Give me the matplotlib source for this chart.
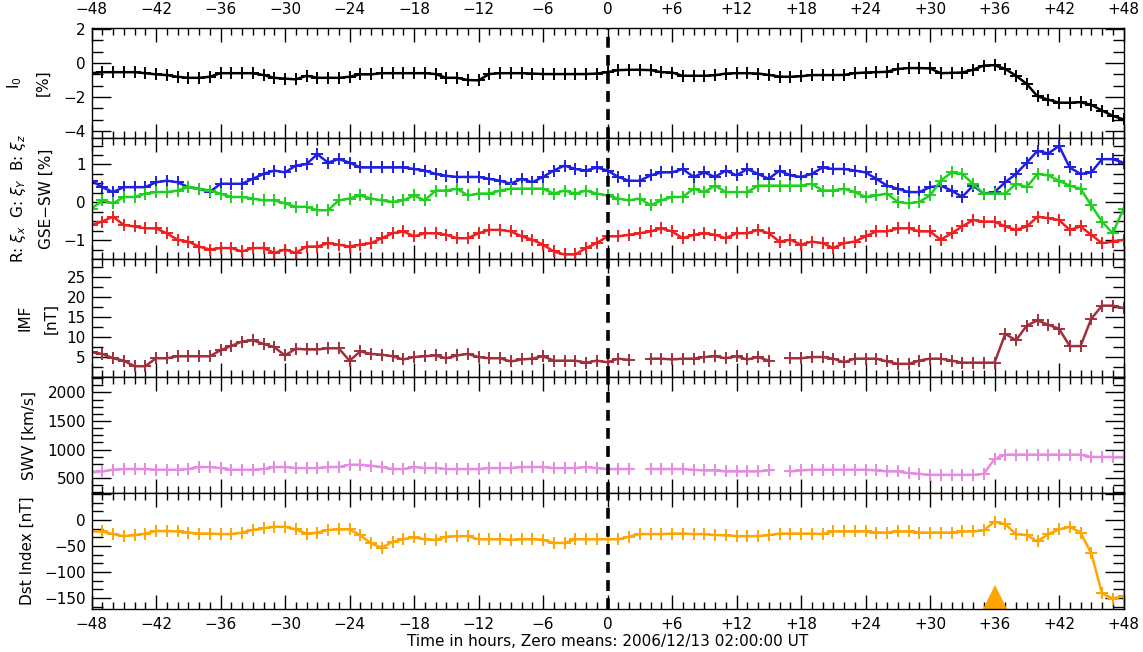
import numpy as np
import matplotlib
matplotlib.use("Agg")
import matplotlib.pyplot as plt
from matplotlib.ticker import MultipleLocator, AutoMinorLocator, FuncFormatter

nan = np.nan
hours = np.arange(-48, 49)

# cosmic ray intensity I0 [%]
i0 = [-0.60, -0.54, -0.54, -0.54, -0.54, -0.60, -0.67, -0.71, -0.81, -0.87,
      -0.87, -0.81, -0.60, -0.60, -0.60, -0.60, -0.71, -0.87, -0.92, -0.96,
      -0.75, -0.87, -0.87, -0.87, -0.81, -0.67, -0.67, -0.60, -0.60,
      -0.60, -0.60, -0.60, -0.65, -0.87, -0.87, -1.00, -1.02, -0.65, -0.60,
      -0.60, -0.60, -0.62, -0.65, -0.65, -0.65, -0.65, -0.65, -0.62,
      -0.54, -0.42, -0.40, -0.40, -0.42, -0.54, -0.56, -0.75, -0.75, -0.75,
      -0.72, -0.62, -0.60, -0.60, -0.62,
      -0.70, -0.80, -0.81, -0.78, -0.71, -0.71, -0.71, -0.70, -0.60, -0.56,
      -0.54, -0.52, -0.35, -0.30, -0.30, -0.32, -0.60, -0.58, -0.56, -0.40,
      -0.15, -0.13, -0.35, -0.75, -1.23, -1.96, -2.15, -2.33, -2.33, -2.30,
      -2.45, -2.79, -3.10, -3.31]

# anisotropy components GSE-SW [%]
xi_x = [-0.60, -0.51, -0.38, -0.60, -0.64, -0.69, -0.69, -0.82, -0.99, -1.04,
        -1.17, -1.25, -1.21, -1.21, -1.30, -1.21, -1.21, -1.34, -1.25, -1.34,
        -1.17, -1.17, -1.08, -1.12, -1.17, -1.12, -1.08,
        -0.95, -0.82, -0.77, -0.90, -0.82, -0.82, -0.86, -0.95, -0.95, -0.82,
        -0.73, -0.73, -0.77, -0.90, -0.99, -1.12, -1.30, -1.38, -1.38, -1.21,
        -1.08, -0.90, -0.90, -0.86, -0.82, -0.77, -0.69, -0.77, -0.95, -0.86,
        -0.82, -0.86, -0.95, -0.82, -0.82, -0.73,
        -0.82, -1.04, -0.99, -1.12, -1.04, -1.08, -1.21, -1.08, -1.04, -0.90,
        -0.77, -0.77, -0.69, -0.69, -0.77, -0.77, -0.99, -0.82, -0.64, -0.47,
        -0.51, -0.51, -0.64, -0.73, -0.64, -0.38, -0.42, -0.47, -0.73, -0.64,
        -0.86, -1.08, -1.04, -0.99]
xi_y = [-0.17, 0.05, -0.03, 0.14, 0.14, 0.23, 0.27, 0.27, 0.31, 0.40,
        0.36, 0.31, 0.23, 0.14, 0.14, 0.10, 0.05, 0.05, -0.03, -0.12,
        -0.12, -0.21, -0.21, 0.05, 0.10, 0.18, 0.10,
        0.05, 0.01, 0.05, 0.18, 0.05, 0.31, 0.31, 0.36, 0.18, 0.23,
        0.23, 0.31, 0.36, 0.36, 0.36, 0.36, 0.23, 0.31, 0.23, 0.31,
        0.23, 0.18, 0.10, 0.05, 0.10, -0.08, 0.05, 0.14, 0.14, 0.36,
        0.27, 0.44, 0.27, 0.27, 0.27, 0.44,
        0.44, 0.44, 0.44, 0.44, 0.49, 0.31, 0.31, 0.36, 0.27, 0.14,
        0.18, 0.23, 0.01, -0.03, 0.01, 0.18, 0.57, 0.79, 0.75, 0.49,
        0.23, 0.23, 0.23, 0.49, 0.40, 0.75, 0.71, 0.57, 0.44, 0.36,
        -0.08, -0.51, -0.82, -0.17]
xi_z = [0.57, 0.40, 0.27, 0.40, 0.40, 0.40, 0.53, 0.57, 0.53, 0.40,
        0.36, 0.27, 0.49, 0.49, 0.49, 0.62, 0.75, 0.84, 0.79, 0.97,
        1.01, 1.27, 1.05, 1.14, 1.05, 0.92, 0.92,
        0.92, 0.92, 0.92, 0.88, 0.84, 0.75, 0.70, 0.67, 0.67, 0.67,
        0.62, 0.57, 0.49, 0.62, 0.53, 0.67, 0.84, 0.97, 0.88, 0.84,
        0.92, 0.84, 0.67, 0.57, 0.57, 0.71, 0.79, 0.79, 0.88, 0.67,
        0.79, 0.67, 0.84, 0.71, 0.88, 0.75,
        0.62, 0.84, 0.71, 0.67, 0.75, 0.92, 0.88, 0.88, 0.84, 0.79,
        0.62, 0.44, 0.36, 0.27, 0.27, 0.40, 0.44, 0.31, 0.14, 0.44,
        0.23, 0.27, 0.53, 0.75, 1.05, 1.36, 1.29, 1.49, 0.92, 0.75,
        0.79, 1.14, 1.14, 1.05]

# interplanetary magnetic field [nT]
imf = [6.2, 5.8, 4.7, 4.1, 2.7, 2.7, 4.7, 4.7, 5.2, 5.2,
       5.2, 5.2, 6.7, 7.8, 8.9, 9.2, 8.3, 7.5, 5.4, 7.1,
       6.9, 6.9, 7.2, 7.2, 4.1, 6.4, 5.8, 5.6, 5.2,
       4.4, 5.0, 5.2, 5.4, 4.7, 5.4, 5.8, 5.0, 4.7, 4.7,
       3.9, 4.4, 4.6, 5.2, 4.1, 4.1, 4.1, 3.6, 4.1, 3.7,
       4.6, 4.3, nan, 4.6, 4.6, 4.4, 4.6, 4.6, 5.0, 5.2,
       4.7, 5.2, 4.4, 5.0,
       4.1, nan, 4.7, 4.7, 5.0, 5.0, 4.6, 3.7, 4.6, 4.6,
       4.6, 3.9, 3.3, 3.3, 4.1, 4.6, 4.6, 4.1, 3.6, 3.6,
       3.6, 3.6, 10.8, 9.2, 12.9, 14.2, 13.1, 12.1, 7.75, 7.75,
       14.6, 17.9, 17.9, 17.25]

# solar wind velocity [km/s]
swv = [600, 617, 647, 659, 659, 659, 647, 647, 647, 659,
       694, 694, 676, 647, 647, 647, 659, 694, 694, 676,
       676, 676, 694, 694, 735, 735, 717, 694, 659,
       659, 694, 676, 676, 659, 659, 659, 659, 676, 676,
       676, 694, 694, 694, 676, 676, 676, 694, 676, 659,
       659, 659, nan, 659, 659, 659, 659, 647, 635, 635,
       617, 617, 617, 617,
       635, nan, 617, 635, 647, 647, 647, 647, 647, 647,
       635, 617, 617, 588, 576, 558, 558, 558, 558, 558,
       576, 835, 911, 911, 911, 911, 911, 911, 911, 911,
       870, 870, 870, 870]

# Dst index [nT]
dst = [-22, -22, -27, -31, -29, -26, -21, -21, -22, -24,
       -26, -26, -27, -27, -24, -19, -16, -13, -13, -18,
       -26, -24, -19, -18, -18, -29, -45, -53, -42,
       -37, -33, -37, -38, -32, -31, -31, -37, -37, -37,
       -38, -37, -37, -38, -44, -44, -37, -37, -37, -37,
       -37, -32, -27, -27, -27, -26, -26, -27, -27, -29,
       -29, -31, -31, -31,
       -29, -26, -26, -26, -26, -27, -22, -22, -22, -22,
       -24, -24, -22, -22, -24, -24, -24, -24, -22, -22,
       -20, -3, -8, -27, -29, -41, -27, -18, -13, -24,
       -64, -141, -151, -146]

storm_hour = 36

panel_px = [28, 138, 259, 377, 493, 609]   # panel edges in pixels from top
W, H = 1143, 652

fig = plt.figure(figsize=(W / 100, H / 100), dpi=100)
axes = []
for i in range(5):
    top, bot = panel_px[i], panel_px[i + 1]
    ax = fig.add_axes([91.5 / W, 1 - bot / H, 1032 / W, (bot - top) / H])
    axes.append(ax)


def hour_label(v, pos):
    v = int(round(v))
    if v == 0:
        return "0"
    return "+%d" % v if v > 0 else "\u2212%d" % (-v)


def inner_label(lo, hi):
    # drop labels sitting on the panel edges
    def fmt(v, pos):
        if v <= lo or v >= hi:
            return ""
        return ("%g" % v).replace("-", "\u2212")
    return FuncFormatter(fmt)


mk = dict(marker="+", ms=9, mew=1.4, lw=1.8)

axes[0].plot(hours, i0, color="black", **mk)
axes[1].plot(hours, xi_z, color="#2020E0", **mk)
axes[1].plot(hours, xi_y, color="#20D020", **mk)
axes[1].plot(hours, xi_x, color="#F02020", **mk)
axes[2].plot(hours, imf, color="#A0303C", **mk)
axes[3].plot(hours, swv, color="#E68AE2", **mk)
axes[4].plot(hours, dst, color="#FFA500", **mk)
axes[4].plot([storm_hour], [0.105], marker="^", ms=17, mew=0, color="#FFA500",
             transform=axes[4].get_xaxis_transform(), clip_on=False)

ylims = [(-4.4, 2.05), (-1.5, 1.7), (0, 29.6), (240, 2270), (-171, 52)]
ymajor = [2, 1, 5, 500, 50]
yminor = [3, 4, 2, 4, 3]
ylabels = ["I$_0$\n[%]",
           "R: $\\xi_x$  G: $\\xi_Y$  B: $\\xi_z$\nGSE\u2212SW [%]",
           "IMF\n[nT]",
           "SWV [km/s]",
           "Dst Index [nT]"]
label_x = [-0.040, -0.037, -0.032, -0.053, -0.055]
label_lim = [(-5, 3), (-2, 2), (0, 30), (0, 2500), (-200, 40)]

for i, ax in enumerate(axes):
    ax.set_xlim(-48, 48)
    ax.set_ylim(*ylims[i])
    ax.xaxis.set_major_locator(MultipleLocator(6))
    ax.xaxis.set_minor_locator(MultipleLocator(1))
    ax.xaxis.set_major_formatter(FuncFormatter(hour_label))
    ax.yaxis.set_major_locator(MultipleLocator(ymajor[i]))
    ax.yaxis.set_minor_locator(AutoMinorLocator(yminor[i]))
    ax.yaxis.set_major_formatter(inner_label(*label_lim[i]))
    ax.tick_params(axis="x", which="major", direction="in", top=True, bottom=True,
                   length=10, width=1, pad=6, labelsize=11,
                   labeltop=(i == 0), labelbottom=(i == 4))
    ax.tick_params(axis="x", which="minor", direction="in", top=True, bottom=True,
                   length=5, width=1)
    ax.tick_params(axis="y", which="major", direction="in", left=True, right=True,
                   length=14, width=1, pad=4, labelsize=11)
    ax.tick_params(axis="y", which="minor", direction="in", left=True, right=True,
                   length=8, width=1)
    for s in ax.spines.values():
        s.set_linewidth(1)
    ax.axvline(0, color="black", ls=(0, (3, 2)), lw=2.6)
    ax.set_ylabel(ylabels[i], fontsize=11, linespacing=1.9)
    ax.yaxis.set_label_coords(label_x[i], 0.5)

# top labels sit a little higher than the bottom ones
axes[0].tick_params(axis="x", which="major", pad=8)

axes[4].set_xlabel("Time in hours, Zero means: 2006/12/13 02:00:00 UT", fontsize=11)
axes[4].xaxis.set_label_coords(0.5, -0.215)

fig.savefig("out.png", dpi=100)
